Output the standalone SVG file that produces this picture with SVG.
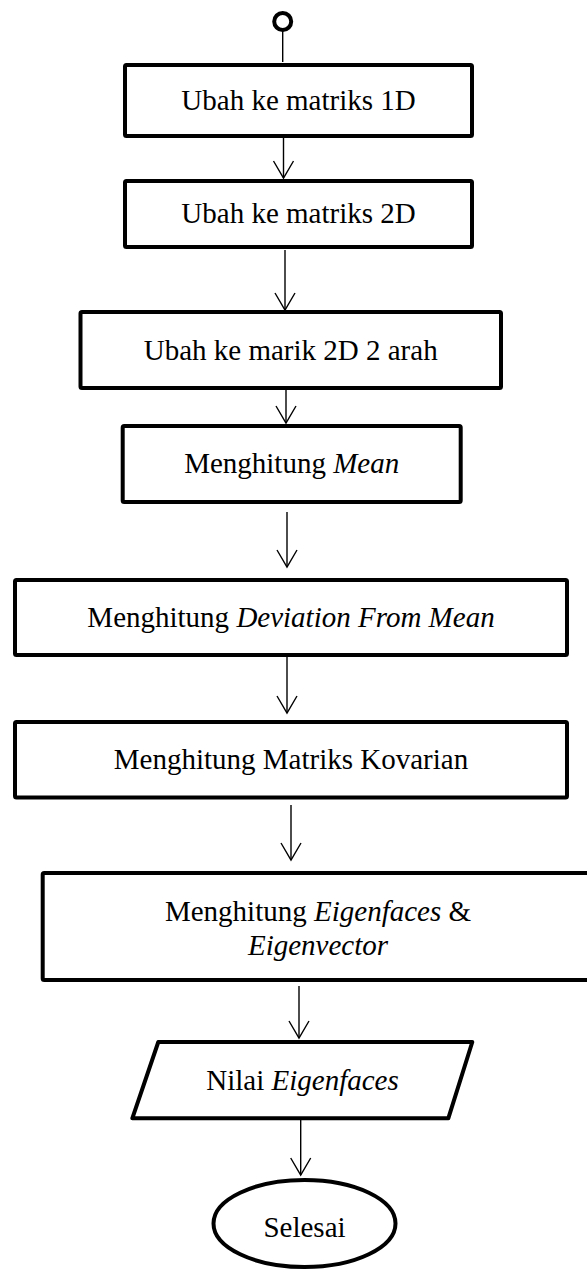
<svg xmlns="http://www.w3.org/2000/svg" width="587" height="1271" viewBox="0 0 587 1271">
<style>
.box{fill:#fff;stroke:#000;stroke-width:4;stroke-linejoin:round}
.t{font-family:"Liberation Serif","Times New Roman",serif;font-size:29px;fill:#000;text-anchor:middle}
.i{font-style:italic}
.c{stroke:#000;stroke-width:1.4;fill:none}
</style>
<defs>
<marker id="arr" markerUnits="userSpaceOnUse" markerWidth="20" markerHeight="24" refX="0" refY="0" orient="auto" overflow="visible">
<path d="M-17,-10 L0,0 L-17,10" fill="none" stroke="#000" stroke-width="1.4"/>
</marker>
</defs>
<rect width="587" height="1271" fill="#fff"/>
<g id="connectors">
<line class="c" x1="282.7" y1="31" x2="282.7" y2="62"/>
<line class="c" x1="283.5" y1="138" x2="283.5" y2="178" marker-end="url(#arr)"/>
<line class="c" x1="285" y1="250" x2="285" y2="310" marker-end="url(#arr)"/>
<line class="c" x1="286" y1="390" x2="286" y2="423" marker-end="url(#arr)"/>
<line class="c" x1="287" y1="512" x2="287" y2="567" marker-end="url(#arr)"/>
<line class="c" x1="287" y1="657" x2="287" y2="713" marker-end="url(#arr)"/>
<line class="c" x1="291" y1="805" x2="291" y2="860" marker-end="url(#arr)"/>
<line class="c" x1="299" y1="986" x2="299" y2="1038" marker-end="url(#arr)"/>
<line class="c" x1="300.7" y1="1120" x2="300.7" y2="1175" marker-end="url(#arr)"/>
</g>
<g id="start">
<circle cx="282.7" cy="21.5" r="8.5" fill="#fff" stroke="#000" stroke-width="4"/>
</g>
<g id="n1">
<rect class="box" x="125" y="65" width="347" height="71" rx="1.5"/>
<text class="t" x="298.5" y="110">Ubah ke matriks 1D</text>
</g>
<g id="n2">
<rect class="box" x="125" y="181" width="347" height="66" rx="1.5"/>
<text class="t" x="298.5" y="223">Ubah ke matriks 2D</text>
</g>
<g id="n3">
<rect class="box" x="80.5" y="312" width="420.5" height="76" rx="1.5"/>
<text class="t" x="290.7" y="360">Ubah ke marik 2D 2 arah</text>
</g>
<g id="n4">
<rect class="box" x="122.7" y="426" width="338" height="76" rx="1.5"/>
<text class="t" x="291.7" y="473">Menghitung <tspan class="i">Mean</tspan></text>
</g>
<g id="n5">
<rect class="box" x="15" y="580" width="552" height="75" rx="1.5"/>
<text class="t" x="291" y="627">Menghitung <tspan class="i">Deviation From Mean</tspan></text>
</g>
<g id="n6">
<rect class="box" x="15" y="722" width="552" height="75.5" rx="1.5"/>
<text class="t" x="291" y="769">Menghitung Matriks Kovarian</text>
</g>
<g id="n7">
<rect class="box" x="42.7" y="873" width="551" height="107" rx="1.5"/>
<text class="t" x="318" y="920.7">Menghitung <tspan class="i">Eigenfaces</tspan> &amp;</text>
<text class="t i" x="318" y="955">Eigenvector</text>
</g>
<g id="n8">
<polygon class="box" points="158.3,1042 472.3,1042 448.3,1118.3 132.3,1118.3"/>
<text class="t" x="302.5" y="1090">Nilai <tspan class="i">Eigenfaces</tspan></text>
</g>
<g id="end">
<ellipse class="box" cx="304.5" cy="1223.5" rx="91" ry="43.5"/>
<text class="t" x="304.5" y="1236.7">Selesai</text>
</g>
</svg>
